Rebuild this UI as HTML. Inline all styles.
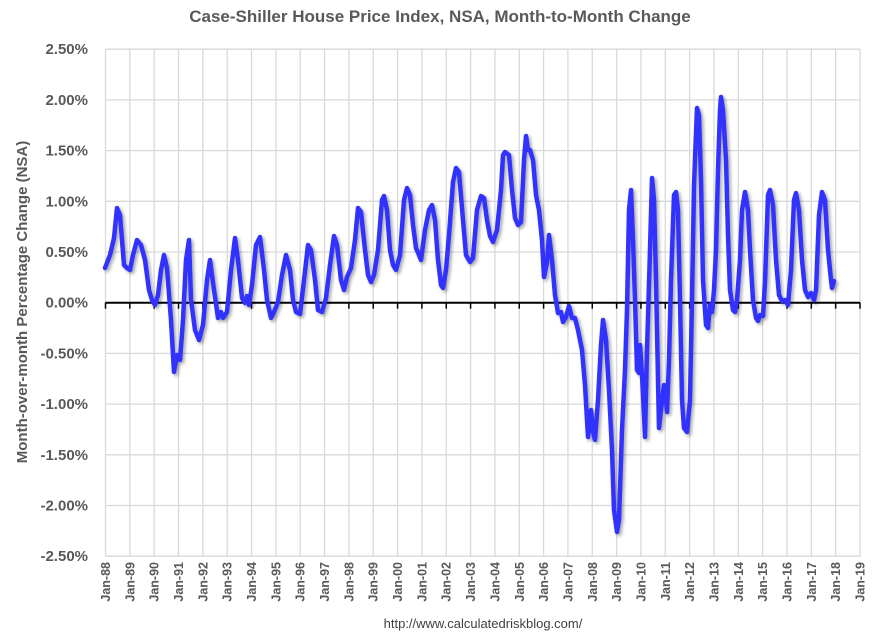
<!DOCTYPE html>
<html><head><meta charset="utf-8"><style>
body{margin:0;background:#fff}
svg{display:block;font-family:"Liberation Sans",sans-serif}
</style></head><body>
<svg width="876" height="644" viewBox="0 0 876 644">
<defs><filter id="sh" x="-5%" y="-5%" width="110%" height="110%"><feDropShadow dx="2" dy="2" stdDeviation="1.5" flood-color="#000" flood-opacity="0.35"/></filter></defs>
<text x="440" y="22" text-anchor="middle" font-size="17" font-weight="bold" fill="#595959">Case-Shiller House Price Index, NSA, Month-to-Month Change</text>
<g stroke="#d9d9d9" stroke-width="1.3" id="grid"></g>
<g id="ylab" font-size="15" font-weight="bold" fill="#595959" text-anchor="end"></g>
<g id="xlab" font-size="12.5" font-weight="bold" fill="#595959"></g>
<line x1="105.5" y1="302.7" x2="860" y2="302.7" stroke="#000" stroke-width="2"/>
<g id="ticks" stroke="#000" stroke-width="1.5"></g>
<text transform="translate(27,302) rotate(-90)" text-anchor="middle" font-size="15" font-weight="bold" fill="#595959">Month-over-month Percentage Change (NSA)</text>
<text x="483" y="628" text-anchor="middle" font-size="13" fill="#404040">http://www.calculatedriskblog.com/</text>
<polyline filter="url(#sh)" fill="none" stroke="#3333ff" stroke-width="4.5" stroke-linejoin="round" stroke-linecap="round" points="105,268 110,255 114,238 117,208 120,215 124,265 127,268 130,270 133,255 137,240 141,245 145,260 149,290 152,300 155,305 158,295 161,270 164,255 167,268 171,320 174,372 177,355 180,360 183,320 186,260 189,240 191,300 195,330 199,340 203,325 207,280 210,260 214,290 218,318 221,312 223,318 227,312 231,270 235,238 238,260 242,298 245,303 247,296 249,305 252,285 256,245 260,237 264,270 267,300 271,318 274,312 278,302 282,275 286,255 290,270 293,300 296,312 300,314 304,280 308,245 311,250 315,280 318,310 322,312 326,298 330,265 334,236 337,245 341,280 344,290 347,277 351,268 355,240 358,208 361,212 365,250 368,275 371,282 374,275 378,250 382,200 384,196 387,210 390,250 393,265 396,270 400,255 404,200 407,188 410,195 413,225 416,248 419,255 421,260 425,230 429,210 432,205 435,220 438,260 441,285 443,288 446,270 449,235 453,182 456,168 459,172 463,220 466,255 470,262 473,258 477,210 481,196 484,198 487,220 490,236 493,242 497,230 501,190 503,155 505,152 509,155 512,190 515,218 518,225 521,222 524,160 526,136 528,150 530,150 533,160 536,195 539,210 542,240 544,277 547,262 549,235 552,260 555,295 558,313 561,312 563,322 566,317 569,306 572,318 575,318 578,330 582,350 585,385 588,437 591,410 593,432 595,440 598,400 601,345 603,320 606,340 609,390 612,450 614,510 617,532 619,520 622,430 625,370 627,310 629,210 631,190 633,240 635,300 637,370 639,373 640,345 642,375 644,415 645,437 647,350 650,250 652,178 654,200 656,280 658,380 659,428 661,410 664,385 666,400 667,412 669,360 671,280 674,195 676,192 678,210 680,300 682,400 684,428 687,432 690,400 692,300 694,185 697,108 699,115 701,180 703,280 706,325 708,328 710,305 712,312 714,290 716,250 718,170 720,110 721,97 723,110 726,160 728,235 730,290 733,310 735,312 737,300 740,260 742,210 745,192 748,210 750,250 753,300 756,318 758,321 760,315 763,316 765,282 768,195 770,190 773,205 776,260 779,295 782,301 785,300 788,305 791,270 794,200 796,193 799,210 802,260 805,290 808,297 811,293 814,300 816,290 819,215 822,192 825,200 828,250 831,280 832,288 834,281"/>
</svg>
<script>
var ns="http://www.w3.org/2000/svg";
function el(p,t,a,txt){var e=document.createElementNS(ns,t);for(var k in a)e.setAttribute(k,a[k]);if(txt)e.textContent=txt;document.getElementById(p).appendChild(e);}
var x0=105.5,dx=(860-105.5)/31,y0=302.7,dy=101.4;
for(var i=0;i<=10;i++){var v=2.5-i*0.5,y=y0-v*dy;
 el("grid","line",{x1:x0,x2:860,y1:y,y2:y});
 el("ylab","text",{x:88,y:y+5},v.toFixed(2)+"%");}
for(var j=0;j<=31;j++){var x=x0+j*dx;
 el("grid","line",{x1:x,x2:x,y1:y0-2.5*dy,y2:y0+2.5*dy});
 el("ticks","line",{x1:x,x2:x,y1:y0,y2:y0+6});
 var yr=(88+j)%100;var s="Jan-"+(yr<10?"0":"")+yr;
 el("xlab","text",{transform:"translate("+(x+4.5)+",562) rotate(-90)","text-anchor":"end"},s);}
</script>
</body></html>
